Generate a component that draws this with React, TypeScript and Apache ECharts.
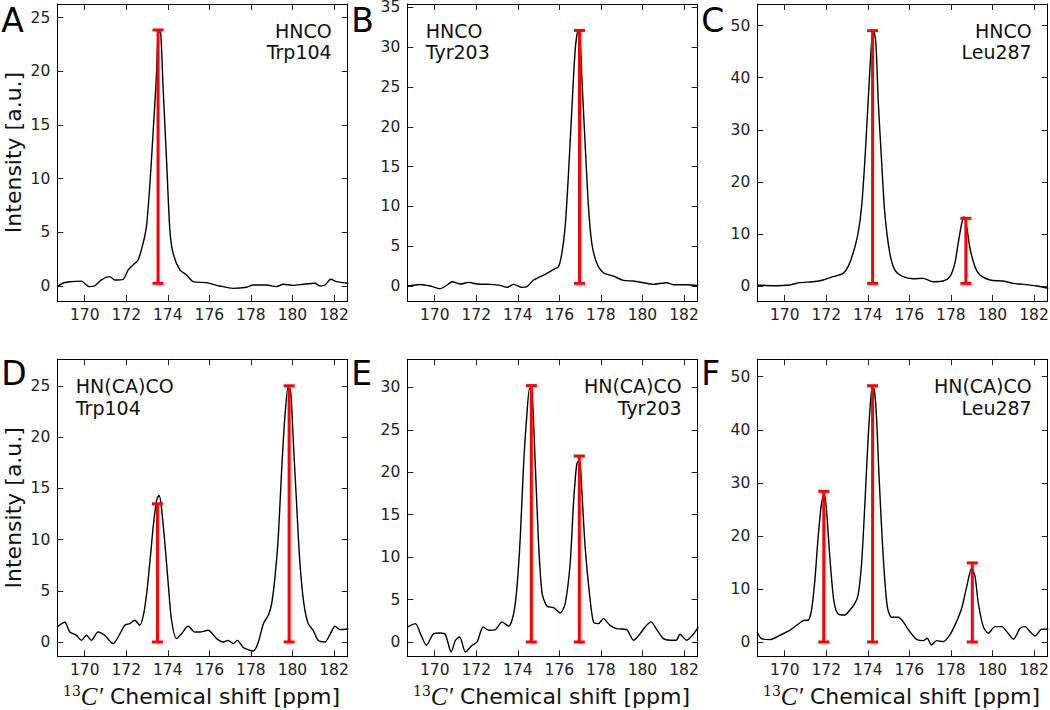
import React, { useEffect, useRef } from "react";
import * as echarts from "echarts";

// ---------- data ----------
const X_MIN = 168.68;
const X_MAX = 182.66;
const X_TICKS = [170, 172, 174, 176, 178, 180, 182];

const panelLetters = ["A", "B", "C", "D", "E", "F"];
const experiments = ["HNCO", "HNCO", "HNCO", "HN(CA)CO", "HN(CA)CO", "HN(CA)CO"];
const residues = ["Trp104", "Tyr203", "Leu287", "Trp104", "Tyr203", "Leu287"];
const labelSides = ["right", "left", "right", "left", "right", "right"];

const yMins = [-1.4, -1.88, -2.88, -1.4, -1.69, -2.7];
const yMaxs = [26.27, 35.42, 54.16, 27.61, 33.3, 53.28];
const yTicksA = [0, 5, 10, 15, 20, 25];
const yTicksB = [0, 5, 10, 15, 20, 25, 30, 35];
const yTicksC = [0, 10, 20, 30, 40, 50];
const yTicksD = [0, 5, 10, 15, 20, 25];
const yTicksE = [0, 5, 10, 15, 20, 25, 30];
const yTicksF = [0, 10, 20, 30, 40, 50];

// spectra: [ppm, intensity]
const traceA = [
  [168.67, -0.06], [169.0, 0.3], [169.28, 0.4], [169.84, 0.45], [170.21, -0.06], [170.48, 0],
  [170.8, 0.56], [171.2, 0.87], [171.45, 0.56], [171.85, 0.62], [172.09, 1.49], [172.33, 1.96],
  [172.57, 2.42], [172.81, 3.98], [172.97, 5.53], [173.13, 9.25], [173.29, 14.23], [173.45, 19.5],
  [173.56, 23.8], [173.66, 23.5], [173.77, 18.6], [173.94, 11.7], [174.1, 5.2], [174.26, 3.0],
  [174.58, 1.49], [174.9, 1.03], [175.22, 0.4], [175.86, 0.31], [176.5, 0], [177.15, -0.22],
  [177.79, -0.12], [178.11, 0.09], [178.75, 0.09], [179.24, -0.06], [179.56, 0.16], [180.04, 0.06],
  [180.52, 0.16], [181.08, 0.25], [181.33, 0], [181.57, 0.09], [181.84, 0.62], [182.13, 0.4],
  [182.69, 0.25],
];
const traceB = [
  [168.68, 0], [169.31, 0.2], [169.79, 0], [170.27, -0.33], [170.6, 0.13], [170.84, 0.54],
  [171.24, 0.25], [171.63, 0.46], [172.04, 0.25], [172.68, 0.21], [173.16, 0.08], [173.48, -0.17],
  [173.8, 0.21], [174.2, -0.17], [174.44, -0.08], [174.76, 0.75], [175.08, 1.17], [175.4, 1.59],
  [175.72, 2.09], [175.96, 2.43], [176.12, 4.1], [176.28, 7.45], [176.44, 14.15], [176.6, 22.1],
  [176.76, 29.6], [176.9, 32.0], [176.99, 31.5], [177.08, 26.3], [177.24, 17.9], [177.4, 10],
  [177.56, 5.4], [177.8, 2.9], [178.12, 1.67], [178.6, 1.25], [179.08, 0.71], [179.57, 0.63],
  [180.05, 0.42], [180.53, 0.21], [181.17, 0.42], [181.49, 0.17], [182.13, 0.17], [182.69, 0.08],
];
const traceC = [
  [168.67, 0.19], [169.44, 0.06], [170.24, 0.19], [170.72, 0.64], [171.36, 0.83], [171.85, 1.15],
  [172.33, 1.79], [172.81, 2.43], [173.05, 3.71], [173.29, 6.28], [173.53, 10.1], [173.7, 15.2],
  [173.86, 24.2], [174.02, 35.7], [174.18, 46.6], [174.29, 48.9], [174.39, 46.6], [174.5, 35.7],
  [174.66, 24.2], [174.82, 13.9], [175.06, 6.28], [175.3, 3.08], [175.7, 1.79], [176.18, 1.4],
  [176.67, 1.47], [177.15, 0.83], [177.63, 0.96], [177.95, 1.79], [178.19, 4.35], [178.35, 8.2],
  [178.52, 12.0], [178.63, 13.3], [178.76, 11.4], [178.92, 7.2], [179.16, 3.7], [179.4, 2.1],
  [179.88, 1.15], [180.52, 0.96], [181.0, 0.51], [181.49, 0.32], [182.13, 0], [182.69, -0.45],
];
const traceD = [
  [168.67, 1.47], [169.04, 1.92], [169.28, 0.98], [169.6, 0.65], [169.84, 0.16], [170.08, 0.65],
  [170.32, 0.16], [170.64, 0.98], [170.96, 0.65], [171.36, -0.16], [171.93, 1.63], [172.17, 1.79],
  [172.41, 2.12], [172.65, 1.63], [172.84, 2.77], [173.0, 5.05], [173.16, 8.31], [173.33, 11.9],
  [173.48, 14.0], [173.58, 14.3], [173.69, 13.2], [173.86, 9.6], [174.02, 5.7], [174.18, 2.12],
  [174.42, 0.33], [174.66, 0.81], [174.98, 1.53], [175.3, 0.98], [175.54, 0.98], [175.94, 1.14],
  [176.35, 0.33], [176.67, 0], [176.91, 0.16], [177.15, -0.16], [177.35, 0.16], [177.64, -0.55],
  [178.12, -0.88], [178.36, 0], [178.6, 1.79], [178.84, 2.61], [179.0, 3.75], [179.16, 6.36],
  [179.32, 10.3], [179.48, 16.8], [179.64, 22.1], [179.8, 25.0], [179.92, 24.3], [180.04, 19.7],
  [180.2, 13.5], [180.36, 7.7], [180.55, 3.75], [180.76, 1.79], [181.0, 1.14], [181.24, 0.16],
  [181.57, 0], [181.81, 0.75], [182.05, 1.53], [182.29, 1.21], [182.69, 1.27],
];
const traceE = [
  [168.7, 1.77], [169.07, 2.16], [169.31, 0.98], [169.6, -0.39], [169.95, 0.98], [170.27, 1.06],
  [170.51, 0.9], [170.79, -1.18], [171.0, 0.2], [171.2, 0.59], [171.48, -1.18], [171.8, -0.39],
  [172.04, 0], [172.33, 1.77], [172.6, 1.38], [172.92, 1.45], [173.24, 2.36], [173.56, 1.85],
  [173.8, 3.34], [173.96, 6.49], [174.12, 12.4], [174.28, 21.0], [174.44, 26.9], [174.57, 29.9],
  [174.68, 29.5], [174.84, 21.0], [175.0, 11.6], [175.17, 5.7], [175.41, 4.2], [175.72, 4.05],
  [176.04, 3.42], [176.28, 4.52], [176.52, 9.24], [176.68, 16.3], [176.84, 21.0], [176.97, 21.4],
  [177.08, 17.9], [177.24, 11.2], [177.45, 5.7], [177.64, 2.36], [177.88, 2.16], [178.12, 2.75],
  [178.44, 1.96], [178.76, 1.57], [179.24, 1.45], [179.57, 0.2], [179.89, 0.98], [180.13, 1.77],
  [180.41, 2.36], [180.69, 1.45], [181.01, 0.39], [181.33, 0.2], [181.62, 0.2], [181.81, 0.9],
  [182.13, 0.2], [182.45, 0.9], [182.69, 1.77],
];
const traceF = [
  [168.67, 1.89], [168.88, 0.63], [169.28, 0.44], [169.76, 1.26], [170.24, 2.2], [170.72, 3.58],
  [170.96, 4.09], [171.12, 4.09], [171.29, 5.97], [171.45, 11.6], [171.61, 19.8], [171.77, 26.1],
  [171.9, 28.0], [172.01, 24.9], [172.17, 16.1], [172.36, 7.9], [172.57, 5.28], [172.89, 5.09],
  [173.13, 5.97], [173.37, 7.23], [173.53, 8.8], [173.7, 14.8], [173.86, 26.1], [174.02, 38.7],
  [174.18, 47.5], [174.26, 48.1], [174.39, 44.4], [174.55, 30.5], [174.74, 16.1], [174.94, 6.6],
  [175.15, 4.65], [175.46, 4.65], [175.7, 3.83], [176.02, 1.95], [176.35, 0.5], [176.67, 0.25],
  [176.86, 0.7], [177.07, -0.57], [177.31, 0.25], [177.63, 0.06], [177.95, 1.32], [178.27, 3.83],
  [178.52, 6.35], [178.76, 10.4], [179.0, 13.9], [179.16, 12.4], [179.32, 7.3], [179.56, 2.89],
  [179.8, 1.64], [180.12, 2.89], [180.45, 2.89], [180.69, 1.95], [181.01, 0.5], [181.33, 2.58],
  [181.57, 2.89], [181.81, 1.95], [182.05, 1.13], [182.37, 2.39], [182.69, 2.39],
];

// error bars: [ppm, low, high]
const barsA = [[173.53, 0.25, 23.85]];
const barsB = [[176.97, 0.34, 32.1]];
const barsC = [[174.23, 0.51, 49.05], [178.72, 0.51, 13.0]];
const barsD = [[173.5, 0, 13.5], [179.84, 0, 25.02]];
const barsE = [[174.65, 0, 30.2], [176.96, 0, 21.9]];
const barsF = [[171.88, 0, 28.4], [174.23, 0, 48.3], [179.03, 0, 14.9]];

const traces = [traceA, traceB, traceC, traceD, traceE, traceF];
const bars = [barsA, barsB, barsC, barsD, barsE, barsF];
const yTicks = [yTicksA, yTicksB, yTicksC, yTicksD, yTicksE, yTicksF];

// ---------- layout ----------
const COL_LEFT = [57.3, 407.3, 757.3];
const ROW_TOP = [4, 359.3];
const PW = 290.4;
const PH = 297;
const FONT = "'DejaVu Sans', sans-serif";

function buildOption() {
  const grid: any[] = [];
  const xAxis: any[] = [];
  const yAxis: any[] = [];
  const series: any[] = [];
  const graphic: any[] = [];
  const axisLineStyle = { color: "#000", width: 1 };
  const tickStyle = { color: "#222", width: 1 };

  for (let i = 0; i < 6; i++) {
    const col = i % 3;
    const row = Math.floor(i / 3);
    const left = COL_LEFT[col];
    const top = ROW_TOP[row];
    grid.push({ left, top, width: PW, height: PH, containLabel: false, outerBoundsMode: "none" });

    for (const pos of ["bottom", "top"]) {
      xAxis.push({
        type: "value",
        gridIndex: i,
        position: pos,
        min: X_MIN,
        max: X_MAX,
        axisLine: { show: true, onZero: false, lineStyle: axisLineStyle },
        axisTick: { show: true, inside: true, length: 6, customValues: X_TICKS, lineStyle: tickStyle },
        axisLabel: {
          show: pos === "bottom",
          customValues: X_TICKS,
          margin: 7,
          fontSize: 15.5,
          lineHeight: 14,
          fontFamily: FONT,
          color: "#222",
        },
        splitLine: { show: false },
      });
    }
    for (const pos of ["left", "right"]) {
      yAxis.push({
        type: "value",
        gridIndex: i,
        position: pos,
        min: yMins[i],
        max: yMaxs[i],
        axisLine: { show: true, onZero: false, lineStyle: axisLineStyle },
        axisTick: { show: true, inside: true, length: 6, customValues: yTicks[i], lineStyle: tickStyle },
        axisLabel: {
          show: pos === "left",
          customValues: yTicks[i],
          margin: 7,
          fontSize: 15.5,
          lineHeight: 12,
          fontFamily: FONT,
          color: "#222",
        },
        splitLine: { show: false },
      });
    }

    series.push({
      type: "line",
      xAxisIndex: 2 * i,
      yAxisIndex: 2 * i,
      data: traces[i],
      symbol: "none",
      showSymbol: false,
      smooth: 0.25,
      lineStyle: { color: "#000", width: 1.4 },
      silent: true,
      z: 2,
    });
    series.push({
      type: "custom",
      xAxisIndex: 2 * i,
      yAxisIndex: 2 * i,
      data: bars[i],
      encode: { x: 0, y: [1, 2] },
      silent: true,
      z: 3,
      renderItem: (params: any, api: any) => {
        const x = api.value(0);
        const lo = api.coord([x, api.value(1)]);
        const hi = api.coord([x, api.value(2)]);
        const half = 5.5;
        const st = { stroke: "#ff0000", lineWidth: 3 };
        return {
          type: "group",
          children: [
            { type: "line", shape: { x1: lo[0], y1: lo[1], x2: hi[0], y2: hi[1] }, style: st },
            { type: "line", shape: { x1: hi[0] - half, y1: hi[1], x2: hi[0] + half, y2: hi[1] }, style: st },
            { type: "line", shape: { x1: lo[0] - half, y1: lo[1], x2: lo[0] + half, y2: lo[1] }, style: st },
          ],
        };
      },
    });

    // panel letter
    graphic.push({
      type: "text",
      x: left - 56,
      y: row === 0 ? 20 : 373.5,
      style: {
        text: panelLetters[i],
        fontSize: 33,
        fontFamily: FONT,
        fill: "#000",
        align: "left",
        verticalAlign: "middle",
      },
    });

    // annotation
    const side = labelSides[i];
    const ax = side === "right" ? left + PW - 16 : left + 18.5;
    [experiments[i], residues[i]].forEach((t, k) => {
      graphic.push({
        type: "text",
        x: ax,
        y: top + 26.7 + k * 21.5,
        style: {
          text: t,
          fontSize: 19,
          fontFamily: FONT,
          fill: "#111",
          align: side,
          verticalAlign: "middle",
        },
      });
    });

    if (col === 0) {
      graphic.push({
        type: "text",
        x: 13,
        y: top + PH / 2,
        rotation: Math.PI / 2,
        style: {
          text: "Intensity [a.u.]",
          fontSize: 22,
          fontFamily: FONT,
          fill: "#111",
          align: "center",
          verticalAlign: "middle",
        },
      });
    }
    if (row === 1) {
      graphic.push({
        type: "text",
        x: left + PW / 2 - 1,
        y: 696,
        style: {
          text: "{s|13}{c|C′}{n| Chemical shift [ppm]}",
          align: "center",
          verticalAlign: "middle",
          fill: "#111",
          rich: {
            s: { fontSize: 14, fontFamily: "'DejaVu Serif', serif", fill: "#111", verticalAlign: "top", lineHeight: 24, padding: [0, 0, 10, 0] },
            c: { fontSize: 25, fontStyle: "italic", fontFamily: "'Liberation Serif', serif", fill: "#111", lineHeight: 24 },
            n: { fontSize: 22, fontFamily: FONT, fill: "#111", lineHeight: 24 },
          },
        },
      });
    }
  }

  return {
    animation: false,
    backgroundColor: "#fff",
    grid,
    xAxis,
    yAxis,
    series,
    graphic,
  };
}

export default function App() {
  const ref = useRef<HTMLDivElement>(null);
  useEffect(() => {
    if (!ref.current) return;
    const chart = echarts.init(ref.current, null, { renderer: "svg" });
    chart.setOption(buildOption() as any);
    return () => chart.dispose();
  }, []);
  return (
    <div
      ref={ref}
      style={{ position: "fixed", left: 0, top: 0, width: 1050, height: 710, background: "#fff" }}
    />
  );
}
